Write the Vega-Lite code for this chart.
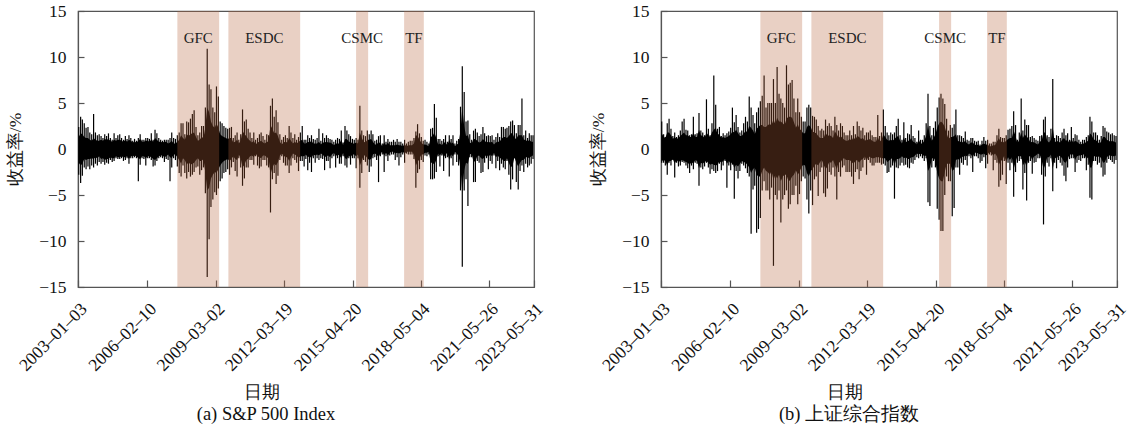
{
"$schema": "https://vega.github.io/schema/vega-lite/v6.json",
"padding": {"left": 6, "top": 1, "right": 10, "bottom": 0},
"datasets": {
"ev": [
{"n":"GFC","s":"2007-06-15","e":"2009-04-28","c":"2008-05-21"},
{"n":"ESDC","s":"2009-09-26","e":"2012-12-12","c":"2011-05-06"},
{"n":"CSMC","s":"2015-06-14","e":"2015-12-28","c":"2015-09-21"},
{"n":"TF","s":"2017-08-07","e":"2018-06-25","c":"2018-01-15"}
],
"m": [
{"d":"2003-01-15","a1":-2.8,"a2":2.4,"p1":-1.5,"p2":1.3,"b1":-1.5,"b2":3.0,"q1":-1.3,"q2":1.7},
{"d":"2003-02-15","a1":-3.7,"a2":3.5,"p1":-1.8,"p2":1.7,"b1":-1.5,"b2":1.6,"q1":-1.2,"q2":1.3},
{"d":"2003-03-15","a1":-2.9,"a2":3.2,"p1":-1.6,"p2":1.6,"b1":-1.8,"b2":1.3,"q1":-1.3,"q2":1.2},
{"d":"2003-04-15","a1":-2.0,"a2":2.8,"p1":-1.1,"p2":1.3,"b1":-2.8,"b2":2.8,"q1":-1.8,"q2":1.8},
{"d":"2003-05-15","a1":-2.2,"a2":2.3,"p1":-1.2,"p2":1.2,"b1":-1.5,"b2":3.3,"q1":-1.3,"q2":1.8},
{"d":"2003-06-15","a1":-1.9,"a2":2.4,"p1":-1.1,"p2":1.2,"b1":-1.8,"b2":2.2,"q1":-1.3,"q2":1.5},
{"d":"2003-07-15","a1":-2.2,"a2":1.8,"p1":-1.1,"p2":1.0,"b1":-1.2,"b2":1.4,"q1":-1.1,"q2":1.1},
{"d":"2003-08-15","a1":-1.8,"a2":1.6,"p1":-1.0,"p2":0.9,"b1":-3.1,"b2":1.8,"q1":-1.6,"q2":1.3},
{"d":"2003-09-15","a1":-2.0,"a2":3.8,"p1":-1.1,"p2":1.2,"b1":-1.5,"b2":1.3,"q1":-1.2,"q2":1.1},
{"d":"2003-10-15","a1":-1.6,"a2":1.8,"p1":-0.9,"p2":1.0,"b1":-1.9,"b2":1.5,"q1":-1.4,"q2":1.2},
{"d":"2003-11-15","a1":-1.8,"a2":1.5,"p1":-1.0,"p2":0.9,"b1":-1.8,"b2":2.0,"q1":-1.3,"q2":1.4},
{"d":"2003-12-15","a1":-1.4,"a2":1.6,"p1":-0.8,"p2":0.9,"b1":-1.4,"b2":3.0,"q1":-1.2,"q2":1.6},
{"d":"2004-01-15","a1":-1.6,"a2":1.4,"p1":-1.1,"p2":1.0,"b1":-1.5,"b2":3.3,"q1":-1.3,"q2":1.8},
{"d":"2004-02-15","a1":-1.4,"a2":1.2,"p1":-1.0,"p2":0.9,"b1":-1.8,"b2":2.1,"q1":-1.4,"q2":1.5},
{"d":"2004-03-15","a1":-1.7,"a2":1.6,"p1":-1.2,"p2":1.1,"b1":-2.1,"b2":2.0,"q1":-1.5,"q2":1.5},
{"d":"2004-04-15","a1":-1.5,"a2":1.4,"p1":-1.1,"p2":1.0,"b1":-2.6,"b2":1.5,"q1":-1.7,"q2":1.3},
{"d":"2004-05-15","a1":-1.6,"a2":1.7,"p1":-1.1,"p2":1.1,"b1":-1.8,"b2":1.6,"q1":-1.4,"q2":1.3},
{"d":"2004-06-15","a1":-1.2,"a2":1.2,"p1":-0.9,"p2":0.9,"b1":-2.2,"b2":3.5,"q1":-1.6,"q2":1.8},
{"d":"2004-07-15","a1":-1.4,"a2":1.0,"p1":-1.0,"p2":0.8,"b1":-1.5,"b2":1.6,"q1":-1.2,"q2":1.3},
{"d":"2004-08-15","a1":-1.3,"a2":1.7,"p1":-1.0,"p2":1.0,"b1":-1.6,"b2":1.7,"q1":-1.3,"q2":1.3},
{"d":"2004-09-15","a1":-1.0,"a2":1.2,"p1":-0.8,"p2":0.9,"b1":-4.0,"b2":3.9,"q1":-2.1,"q2":2.1},
{"d":"2004-10-15","a1":-1.1,"a2":1.5,"p1":-0.9,"p2":1.0,"b1":-2.0,"b2":2.0,"q1":-1.5,"q2":1.5},
{"d":"2004-11-15","a1":-1.1,"a2":1.6,"p1":-0.9,"p2":1.0,"b1":-2.2,"b2":1.8,"q1":-1.6,"q2":1.4},
{"d":"2004-12-15","a1":-1.0,"a2":1.2,"p1":-0.8,"p2":0.9,"b1":-1.9,"b2":1.5,"q1":-1.4,"q2":1.2},
{"d":"2005-01-15","a1":-1.3,"a2":1.0,"p1":-0.9,"p2":0.8,"b1":-1.5,"b2":5.4,"q1":-1.3,"q2":1.8},
{"d":"2005-02-15","a1":-1.2,"a2":1.4,"p1":-0.9,"p2":1.0,"b1":-2.0,"b2":2.2,"q1":-1.5,"q2":1.5},
{"d":"2005-03-15","a1":-1.0,"a2":1.1,"p1":-0.8,"p2":0.8,"b1":-2.7,"b2":1.5,"q1":-1.7,"q2":1.3},
{"d":"2005-04-15","a1":-1.6,"a2":1.5,"p1":-1.1,"p2":1.0,"b1":-2.2,"b2":2.8,"q1":-1.6,"q2":1.8},
{"d":"2005-05-15","a1":-1.0,"a2":1.2,"p1":-0.8,"p2":0.9,"b1":-2.4,"b2":8.0,"q1":-1.7,"q2":2.1},
{"d":"2005-06-15","a1":-1.0,"a2":0.9,"p1":-0.8,"p2":0.7,"b1":-2.6,"b2":4.8,"q1":-1.8,"q2":2.3},
{"d":"2005-07-15","a1":-0.9,"a2":1.1,"p1":-0.7,"p2":0.8,"b1":-2.4,"b2":2.2,"q1":-1.7,"q2":1.6},
{"d":"2005-08-15","a1":-1.0,"a2":0.9,"p1":-0.8,"p2":0.7,"b1":-1.6,"b2":2.4,"q1":-1.3,"q2":1.6},
{"d":"2005-09-15","a1":-3.5,"a2":1.2,"p1":-1.0,"p2":0.9,"b1":-2.3,"b2":1.4,"q1":-1.5,"q2":1.2},
{"d":"2005-10-15","a1":-1.7,"a2":1.6,"p1":-1.1,"p2":1.1,"b1":-1.8,"b2":1.7,"q1":-1.3,"q2":1.3},
{"d":"2005-11-15","a1":-1.0,"a2":1.0,"p1":-0.8,"p2":0.8,"b1":-1.3,"b2":1.5,"q1":-1.1,"q2":1.2},
{"d":"2005-12-15","a1":-1.1,"a2":1.0,"p1":-0.8,"p2":0.8,"b1":-4.2,"b2":1.7,"q1":-1.6,"q2":1.3},
{"d":"2006-01-15","a1":-1.8,"a2":1.2,"p1":-1.0,"p2":0.9,"b1":-1.8,"b2":1.9,"q1":-1.3,"q2":1.4},
{"d":"2006-02-15","a1":-1.0,"a2":1.2,"p1":-0.8,"p2":0.9,"b1":-2.3,"b2":2.3,"q1":-1.6,"q2":1.6},
{"d":"2006-03-15","a1":-1.0,"a2":1.1,"p1":-0.8,"p2":0.8,"b1":-1.7,"b2":4.5,"q1":-1.4,"q2":1.9},
{"d":"2006-04-15","a1":-1.2,"a2":1.7,"p1":-0.9,"p2":1.0,"b1":-5.4,"b2":2.9,"q1":-2.1,"q2":1.8},
{"d":"2006-05-15","a1":-1.9,"a2":1.0,"p1":-1.1,"p2":0.8,"b1":-2.4,"b2":3.7,"q1":-1.7,"q2":2.1},
{"d":"2006-06-15","a1":-1.8,"a2":2.1,"p1":-1.2,"p2":1.2,"b1":-3.2,"b2":2.4,"q1":-1.9,"q2":1.7},
{"d":"2006-07-15","a1":-1.3,"a2":1.7,"p1":-1.0,"p2":1.0,"b1":-2.4,"b2":1.8,"q1":-1.6,"q2":1.4},
{"d":"2006-08-15","a1":-1.0,"a2":1.2,"p1":-0.8,"p2":0.8,"b1":-1.6,"b2":2.0,"q1":-1.3,"q2":1.4},
{"d":"2006-09-15","a1":-0.9,"a2":1.0,"p1":-0.7,"p2":0.8,"b1":-1.8,"b2":2.8,"q1":-1.4,"q2":1.7},
{"d":"2006-10-15","a1":-1.0,"a2":0.9,"p1":-0.7,"p2":0.7,"b1":-2.1,"b2":3.5,"q1":-1.5,"q2":1.9},
{"d":"2006-11-15","a1":-1.4,"a2":1.0,"p1":-0.9,"p2":0.8,"b1":-2.6,"b2":3.0,"q1":-1.7,"q2":1.9},
{"d":"2006-12-15","a1":-1.1,"a2":1.0,"p1":-0.8,"p2":0.8,"b1":-3.0,"b2":5.7,"q1":-2.0,"q2":2.5},
{"d":"2007-01-15","a1":-1.2,"a2":1.0,"p1":-0.6,"p2":0.6,"b1":-9.2,"b2":4.5,"q1":-2.6,"q2":2.3},
{"d":"2007-02-15","a1":-3.5,"a2":1.2,"p1":-0.9,"p2":0.7,"b1":-4.4,"b2":3.7,"q1":-2.2,"q2":2.0},
{"d":"2007-03-15","a1":-2.0,"a2":1.8,"p1":-1.0,"p2":0.9,"b1":-4.0,"b2":2.8,"q1":-2.0,"q2":1.6},
{"d":"2007-04-15","a1":-1.0,"a2":1.2,"p1":-0.6,"p2":0.6,"b1":-9.1,"b2":4.0,"q1":-2.8,"q2":2.2},
{"d":"2007-05-15","a1":-1.2,"a2":1.1,"p1":-0.6,"p2":0.6,"b1":-8.7,"b2":4.5,"q1":-3.0,"q2":2.4},
{"d":"2007-06-15","a1":-1.9,"a2":1.5,"p1":-0.9,"p2":0.8,"b1":-7.5,"b2":5.2,"q1":-3.0,"q2":2.6},
{"d":"2007-07-15","a1":-2.6,"a2":1.8,"p1":-1.2,"p2":1.0,"b1":-4.5,"b2":5.8,"q1":-2.4,"q2":2.6},
{"d":"2007-08-15","a1":-3.0,"a2":2.8,"p1":-1.6,"p2":1.5,"b1":-3.5,"b2":8.0,"q1":-2.0,"q2":2.4},
{"d":"2007-09-15","a1":-1.8,"a2":2.8,"p1":-1.0,"p2":1.2,"b1":-4.5,"b2":4.5,"q1":-2.4,"q2":2.4},
{"d":"2007-10-15","a1":-2.6,"a2":1.6,"p1":-1.2,"p2":1.0,"b1":-4.5,"b2":5.0,"q1":-2.5,"q2":2.6},
{"d":"2007-11-15","a1":-3.2,"a2":3.0,"p1":-1.7,"p2":1.6,"b1":-5.5,"b2":5.0,"q1":-2.8,"q2":2.7},
{"d":"2007-12-15","a1":-2.5,"a2":2.9,"p1":-1.4,"p2":1.4,"b1":-4.2,"b2":5.0,"q1":-2.4,"q2":2.6},
{"d":"2008-01-15","a1":-3.0,"a2":3.3,"p1":-1.7,"p2":1.6,"b1":-12.7,"b2":7.6,"q1":-3.4,"q2":3.2},
{"d":"2008-02-15","a1":-2.8,"a2":3.8,"p1":-1.6,"p2":1.7,"b1":-5.0,"b2":5.0,"q1":-2.8,"q2":2.7},
{"d":"2008-03-15","a1":-2.5,"a2":4.2,"p1":-1.5,"p2":1.8,"b1":-5.5,"b2":8.9,"q1":-3.2,"q2":3.4},
{"d":"2008-04-15","a1":-2.0,"a2":2.4,"p1":-1.2,"p2":1.3,"b1":-4.5,"b2":6.0,"q1":-2.8,"q2":3.0},
{"d":"2008-05-15","a1":-1.9,"a2":1.5,"p1":-1.0,"p2":0.9,"b1":-8.0,"b2":5.5,"q1":-3.5,"q2":3.0},
{"d":"2008-06-15","a1":-2.8,"a2":1.8,"p1":-1.3,"p2":1.0,"b1":-5.5,"b2":5.0,"q1":-3.0,"q2":2.8},
{"d":"2008-07-15","a1":-2.3,"a2":2.5,"p1":-1.3,"p2":1.3,"b1":-5.0,"b2":4.5,"q1":-2.8,"q2":2.6},
{"d":"2008-08-15","a1":-2.0,"a2":2.5,"p1":-1.1,"p2":1.2,"b1":-4.5,"b2":9.1,"q1":-2.8,"q2":3.3},
{"d":"2008-09-15","a1":-4.8,"a2":4.5,"p1":-2.6,"p2":2.4,"b1":-6.5,"b2":7.0,"q1":-3.5,"q2":3.5},
{"d":"2008-10-15","a1":-13.9,"a2":10.9,"p1":-4.5,"p2":4.5,"b1":-6.0,"b2":7.2,"q1":-3.4,"q2":3.5},
{"d":"2008-11-15","a1":-9.8,"a2":7.0,"p1":-4.2,"p2":4.0,"b1":-5.0,"b2":7.5,"q1":-3.0,"q2":3.4},
{"d":"2008-12-15","a1":-6.3,"a2":6.5,"p1":-3.2,"p2":3.0,"b1":-5.0,"b2":5.5,"q1":-2.8,"q2":2.9},
{"d":"2009-01-15","a1":-5.5,"a2":4.5,"p1":-2.8,"p2":2.5,"b1":-4.0,"b2":4.0,"q1":-2.3,"q2":2.3},
{"d":"2009-02-15","a1":-4.7,"a2":4.0,"p1":-2.5,"p2":2.3,"b1":-6.0,"b2":5.5,"q1":-2.8,"q2":2.7},
{"d":"2009-03-15","a1":-5.0,"a2":6.8,"p1":-2.6,"p2":2.8,"b1":-4.9,"b2":4.0,"q1":-2.5,"q2":2.2},
{"d":"2009-04-15","a1":-4.3,"a2":5.7,"p1":-2.2,"p2":2.3,"b1":-3.5,"b2":3.5,"q1":-2.0,"q2":2.0},
{"d":"2009-05-15","a1":-3.5,"a2":3.0,"p1":-1.8,"p2":1.6,"b1":-3.0,"b2":3.0,"q1":-1.7,"q2":1.7},
{"d":"2009-06-15","a1":-3.2,"a2":2.8,"p1":-1.5,"p2":1.4,"b1":-3.2,"b2":3.0,"q1":-1.8,"q2":1.7},
{"d":"2009-07-15","a1":-2.6,"a2":2.5,"p1":-1.3,"p2":1.3,"b1":-5.5,"b2":4.5,"q1":-2.6,"q2":2.4},
{"d":"2009-08-15","a1":-2.5,"a2":2.3,"p1":-1.2,"p2":1.2,"b1":-7.0,"b2":4.8,"q1":-3.0,"q2":2.6},
{"d":"2009-09-15","a1":-2.2,"a2":2.2,"p1":-1.1,"p2":1.1,"b1":-4.5,"b2":4.5,"q1":-2.4,"q2":2.4},
{"d":"2009-10-15","a1":-2.8,"a2":2.3,"p1":-1.3,"p2":1.2,"b1":-6.1,"b2":3.6,"q1":-2.2,"q2":1.9},
{"d":"2009-11-15","a1":-2.0,"a2":2.4,"p1":-1.1,"p2":1.2,"b1":-3.3,"b2":3.5,"q1":-1.8,"q2":1.8},
{"d":"2009-12-15","a1":-1.4,"a2":1.2,"p1":-0.8,"p2":0.7,"b1":-3.0,"b2":3.2,"q1":-1.6,"q2":1.7},
{"d":"2010-01-15","a1":-2.4,"a2":1.5,"p1":-1.1,"p2":0.8,"b1":-5.1,"b2":2.5,"q1":-1.8,"q2":1.4},
{"d":"2010-02-15","a1":-3.0,"a2":1.8,"p1":-1.2,"p2":1.0,"b1":-2.5,"b2":2.0,"q1":-1.4,"q2":1.2},
{"d":"2010-03-15","a1":-1.0,"a2":1.0,"p1":-0.6,"p2":0.6,"b1":-2.0,"b2":2.2,"q1":-1.2,"q2":1.2},
{"d":"2010-04-15","a1":-2.0,"a2":1.6,"p1":-1.0,"p2":0.9,"b1":-4.8,"b2":2.0,"q1":-1.7,"q2":1.2},
{"d":"2010-05-15","a1":-4.0,"a2":4.3,"p1":-2.0,"p2":2.0,"b1":-5.2,"b2":3.2,"q1":-2.2,"q2":1.8},
{"d":"2010-06-15","a1":-3.2,"a2":3.0,"p1":-1.7,"p2":1.6,"b1":-4.3,"b2":2.5,"q1":-1.9,"q2":1.4},
{"d":"2010-07-15","a1":-2.0,"a2":3.2,"p1":-1.2,"p2":1.4,"b1":-2.5,"b2":2.8,"q1":-1.4,"q2":1.5},
{"d":"2010-08-15","a1":-2.0,"a2":2.2,"p1":-1.1,"p2":1.1,"b1":-2.8,"b2":2.5,"q1":-1.5,"q2":1.4},
{"d":"2010-09-15","a1":-1.2,"a2":1.8,"p1":-0.8,"p2":0.9,"b1":-2.0,"b2":2.0,"q1":-1.2,"q2":1.2},
{"d":"2010-10-15","a1":-1.2,"a2":1.2,"p1":-0.7,"p2":0.7,"b1":-3.0,"b2":3.5,"q1":-1.7,"q2":1.9},
{"d":"2010-11-15","a1":-1.7,"a2":1.8,"p1":-0.9,"p2":0.9,"b1":-5.5,"b2":2.6,"q1":-2.2,"q2":1.6},
{"d":"2010-12-15","a1":-0.8,"a2":1.0,"p1":-0.5,"p2":0.5,"b1":-2.5,"b2":2.0,"q1":-1.4,"q2":1.2},
{"d":"2011-01-15","a1":-1.8,"a2":1.2,"p1":-0.8,"p2":0.7,"b1":-3.0,"b2":2.8,"q1":-1.5,"q2":1.4},
{"d":"2011-02-15","a1":-2.1,"a2":1.6,"p1":-0.9,"p2":0.8,"b1":-2.0,"b2":2.5,"q1":-1.1,"q2":1.2},
{"d":"2011-03-15","a1":-1.9,"a2":1.8,"p1":-1.0,"p2":0.9,"b1":-1.8,"b2":1.8,"q1":-1.0,"q2":1.0},
{"d":"2011-04-15","a1":-1.2,"a2":1.4,"p1":-0.7,"p2":0.7,"b1":-2.5,"b2":1.5,"q1":-1.2,"q2":0.9},
{"d":"2011-05-15","a1":-1.2,"a2":1.0,"p1":-0.7,"p2":0.6,"b1":-2.5,"b2":1.5,"q1":-1.2,"q2":0.9},
{"d":"2011-06-15","a1":-1.8,"a2":1.6,"p1":-0.9,"p2":0.8,"b1":-2.5,"b2":2.0,"q1":-1.2,"q2":1.1},
{"d":"2011-07-15","a1":-2.0,"a2":1.5,"p1":-1.0,"p2":0.8,"b1":-3.0,"b2":1.5,"q1":-1.4,"q2":0.9},
{"d":"2011-08-15","a1":-6.9,"a2":4.7,"p1":-2.8,"p2":2.6,"b1":-3.8,"b2":2.5,"q1":-1.6,"q2":1.3},
{"d":"2011-09-15","a1":-3.3,"a2":5.5,"p1":-2.0,"p2":2.2,"b1":-2.5,"b2":1.6,"q1":-1.3,"q2":1.0},
{"d":"2011-10-15","a1":-2.6,"a2":3.5,"p1":-1.6,"p2":1.7,"b1":-2.2,"b2":3.0,"q1":-1.2,"q2":1.4},
{"d":"2011-11-15","a1":-3.8,"a2":4.2,"p1":-1.8,"p2":1.8,"b1":-3.3,"b2":2.5,"q1":-1.5,"q2":1.3},
{"d":"2011-12-15","a1":-2.9,"a2":2.9,"p1":-1.4,"p2":1.4,"b1":-2.4,"b2":2.0,"q1":-1.2,"q2":1.1},
{"d":"2012-01-15","a1":-1.2,"a2":1.6,"p1":-0.7,"p2":0.8,"b1":-2.0,"b2":2.3,"q1":-1.1,"q2":1.2},
{"d":"2012-02-15","a1":-0.8,"a2":1.0,"p1":-0.5,"p2":0.5,"b1":-1.2,"b2":1.5,"q1":-0.8,"q2":0.9},
{"d":"2012-03-15","a1":-1.5,"a2":1.3,"p1":-0.7,"p2":0.7,"b1":-2.8,"b2":1.8,"q1":-1.3,"q2":1.0},
{"d":"2012-04-15","a1":-1.8,"a2":1.5,"p1":-0.9,"p2":0.8,"b1":-1.2,"b2":1.8,"q1":-0.8,"q2":1.0},
{"d":"2012-05-15","a1":-1.8,"a2":1.2,"p1":-0.9,"p2":0.7,"b1":-1.5,"b2":2.0,"q1":-0.9,"q2":1.1},
{"d":"2012-06-15","a1":-2.6,"a2":2.5,"p1":-1.3,"p2":1.2,"b1":-1.8,"b2":1.5,"q1":-1.0,"q2":0.9},
{"d":"2012-07-15","a1":-1.8,"a2":1.8,"p1":-0.9,"p2":0.9,"b1":-1.8,"b2":1.3,"q1":-1.0,"q2":0.8},
{"d":"2012-08-15","a1":-1.0,"a2":1.2,"p1":-0.5,"p2":0.6,"b1":-1.5,"b2":1.3,"q1":-0.9,"q2":0.8},
{"d":"2012-09-15","a1":-1.2,"a2":1.6,"p1":-0.6,"p2":0.8,"b1":-1.5,"b2":3.7,"q1":-0.9,"q2":1.3},
{"d":"2012-10-15","a1":-1.5,"a2":1.0,"p1":-0.7,"p2":0.6,"b1":-1.5,"b2":1.4,"q1":-0.9,"q2":0.8},
{"d":"2012-11-15","a1":-2.4,"a2":1.3,"p1":-1.0,"p2":0.8,"b1":-1.7,"b2":1.8,"q1":-1.0,"q2":1.0},
{"d":"2012-12-15","a1":-1.3,"a2":1.8,"p1":-0.8,"p2":0.9,"b1":-1.6,"b2":4.3,"q1":-1.0,"q2":1.6},
{"d":"2013-01-15","a1":-1.3,"a2":2.5,"p1":-0.8,"p2":1.0,"b1":-1.8,"b2":2.5,"q1":-1.0,"q2":1.3},
{"d":"2013-02-15","a1":-1.9,"a2":1.0,"p1":-0.8,"p2":0.6,"b1":-2.6,"b2":1.8,"q1":-1.4,"q2":1.0},
{"d":"2013-03-15","a1":-1.1,"a2":1.0,"p1":-0.6,"p2":0.6,"b1":-2.5,"b2":1.5,"q1":-1.3,"q2":0.9},
{"d":"2013-04-15","a1":-2.3,"a2":1.5,"p1":-0.9,"p2":0.8,"b1":-2.0,"b2":1.8,"q1":-1.1,"q2":1.0},
{"d":"2013-05-15","a1":-1.5,"a2":1.2,"p1":-0.8,"p2":0.7,"b1":-1.8,"b2":1.6,"q1":-1.0,"q2":0.9},
{"d":"2013-06-15","a1":-2.5,"a2":1.5,"p1":-1.0,"p2":0.9,"b1":-5.4,"b2":1.8,"q1":-1.8,"q2":1.1},
{"d":"2013-07-15","a1":-1.0,"a2":1.1,"p1":-0.6,"p2":0.6,"b1":-2.0,"b2":2.5,"q1":-1.1,"q2":1.3},
{"d":"2013-08-15","a1":-1.5,"a2":1.0,"p1":-0.7,"p2":0.6,"b1":-2.1,"b2":3.3,"q1":-1.1,"q2":1.4},
{"d":"2013-09-15","a1":-1.0,"a2":1.2,"p1":-0.6,"p2":0.6,"b1":-1.8,"b2":1.5,"q1":-1.0,"q2":0.9},
{"d":"2013-10-15","a1":-1.2,"a2":2.2,"p1":-0.7,"p2":0.8,"b1":-1.5,"b2":1.0,"q1":-0.8,"q2":0.6},
{"d":"2013-11-15","a1":-1.0,"a2":0.9,"p1":-0.5,"p2":0.5,"b1":-1.8,"b2":2.9,"q1":-1.0,"q2":1.3},
{"d":"2013-12-15","a1":-1.1,"a2":1.7,"p1":-0.6,"p2":0.7,"b1":-1.7,"b2":1.2,"q1":-0.9,"q2":0.7},
{"d":"2014-01-15","a1":-2.3,"a2":1.2,"p1":-0.9,"p2":0.7,"b1":-2.0,"b2":1.7,"q1":-1.1,"q2":0.9},
{"d":"2014-02-15","a1":-1.3,"a2":1.5,"p1":-0.8,"p2":0.8,"b1":-2.1,"b2":1.6,"q1":-1.1,"q2":0.9},
{"d":"2014-03-15","a1":-1.3,"a2":1.2,"p1":-0.7,"p2":0.7,"b1":-1.5,"b2":2.6,"q1":-0.9,"q2":1.2},
{"d":"2014-04-15","a1":-2.1,"a2":1.1,"p1":-0.9,"p2":0.7,"b1":-1.6,"b2":1.4,"q1":-0.9,"q2":0.8},
{"d":"2014-05-15","a1":-1.0,"a2":1.0,"p1":-0.6,"p2":0.6,"b1":-1.2,"b2":1.2,"q1":-0.7,"q2":0.7},
{"d":"2014-06-15","a1":-0.8,"a2":0.8,"p1":-0.4,"p2":0.4,"b1":-0.9,"b2":0.8,"q1":-0.5,"q2":0.5},
{"d":"2014-07-15","a1":-2.0,"a2":1.0,"p1":-0.8,"p2":0.6,"b1":-1.0,"b2":2.0,"q1":-0.6,"q2":1.0},
{"d":"2014-08-15","a1":-1.0,"a2":1.2,"p1":-0.6,"p2":0.6,"b1":-0.8,"b2":1.0,"q1":-0.5,"q2":0.6},
{"d":"2014-09-15","a1":-1.6,"a2":1.1,"p1":-0.7,"p2":0.6,"b1":-1.0,"b2":1.0,"q1":-0.6,"q2":0.6},
{"d":"2014-10-15","a1":-1.6,"a2":2.0,"p1":-1.0,"p2":1.0,"b1":-1.3,"b2":1.5,"q1":-0.8,"q2":0.9},
{"d":"2014-11-15","a1":-0.8,"a2":0.7,"p1":-0.4,"p2":0.4,"b1":-1.0,"b2":2.8,"q1":-0.7,"q2":1.4},
{"d":"2014-12-15","a1":-1.8,"a2":2.5,"p1":-1.0,"p2":1.1,"b1":-5.8,"b2":6.0,"q1":-2.4,"q2":2.6},
{"d":"2015-01-15","a1":-2.0,"a2":2.0,"p1":-1.1,"p2":1.1,"b1":-6.2,"b2":2.5,"q1":-2.0,"q2":1.4},
{"d":"2015-02-15","a1":-1.0,"a2":1.6,"p1":-0.7,"p2":0.8,"b1":-2.0,"b2":1.5,"q1":-1.1,"q2":0.9},
{"d":"2015-03-15","a1":-1.7,"a2":1.4,"p1":-0.9,"p2":0.8,"b1":-1.3,"b2":2.3,"q1":-0.9,"q2":1.2},
{"d":"2015-04-15","a1":-1.0,"a2":1.1,"p1":-0.6,"p2":0.6,"b1":-2.0,"b2":3.0,"q1":-1.3,"q2":1.6},
{"d":"2015-05-15","a1":-1.0,"a2":1.0,"p1":-0.6,"p2":0.6,"b1":-6.5,"b2":4.5,"q1":-2.6,"q2":2.3},
{"d":"2015-06-15","a1":-2.1,"a2":1.2,"p1":-0.8,"p2":0.7,"b1":-7.7,"b2":5.6,"q1":-3.2,"q2":2.8},
{"d":"2015-07-15","a1":-1.0,"a2":1.0,"p1":-0.6,"p2":0.6,"b1":-8.9,"b2":6.0,"q1":-3.5,"q2":3.0},
{"d":"2015-08-15","a1":-4.2,"a2":4.7,"p1":-1.8,"p2":1.8,"b1":-8.9,"b2":5.5,"q1":-3.5,"q2":2.8},
{"d":"2015-09-15","a1":-2.6,"a2":2.0,"p1":-1.3,"p2":1.2,"b1":-5.0,"b2":4.9,"q1":-2.5,"q2":2.4},
{"d":"2015-10-15","a1":-1.2,"a2":1.5,"p1":-0.7,"p2":0.8,"b1":-3.0,"b2":3.3,"q1":-1.6,"q2":1.7},
{"d":"2015-11-15","a1":-1.4,"a2":1.4,"p1":-0.7,"p2":0.7,"b1":-3.5,"b2":2.0,"q1":-1.6,"q2":1.1},
{"d":"2015-12-15","a1":-1.8,"a2":2.0,"p1":-1.0,"p2":1.0,"b1":-3.5,"b2":2.6,"q1":-1.6,"q2":1.3},
{"d":"2016-01-15","a1":-2.5,"a2":1.6,"p1":-1.2,"p2":1.0,"b1":-7.3,"b2":2.3,"q1":-2.4,"q2":1.3},
{"d":"2016-02-15","a1":-1.9,"a2":2.0,"p1":-1.1,"p2":1.1,"b1":-6.4,"b2":2.7,"q1":-2.2,"q2":1.4},
{"d":"2016-03-15","a1":-1.0,"a2":1.6,"p1":-0.6,"p2":0.8,"b1":-2.0,"b2":4.3,"q1":-1.2,"q2":1.6},
{"d":"2016-04-15","a1":-0.9,"a2":0.9,"p1":-0.5,"p2":0.5,"b1":-2.0,"b2":1.5,"q1":-1.1,"q2":0.9},
{"d":"2016-05-15","a1":-1.2,"a2":1.0,"p1":-0.6,"p2":0.5,"b1":-2.8,"b2":1.5,"q1":-1.2,"q2":0.8},
{"d":"2016-06-15","a1":-3.6,"a2":1.4,"p1":-0.9,"p2":0.8,"b1":-1.5,"b2":1.4,"q1":-0.8,"q2":0.8},
{"d":"2016-07-15","a1":-0.8,"a2":1.5,"p1":-0.5,"p2":0.6,"b1":-1.7,"b2":1.2,"q1":-0.9,"q2":0.7},
{"d":"2016-08-15","a1":-0.6,"a2":0.6,"p1":-0.3,"p2":0.3,"b1":-1.2,"b2":1.9,"q1":-0.7,"q2":0.9},
{"d":"2016-09-15","a1":-2.5,"a2":1.5,"p1":-0.7,"p2":0.7,"b1":-1.8,"b2":1.0,"q1":-0.8,"q2":0.6},
{"d":"2016-10-15","a1":-0.8,"a2":0.8,"p1":-0.4,"p2":0.4,"b1":-0.8,"b2":0.9,"q1":-0.5,"q2":0.5},
{"d":"2016-11-15","a1":-1.3,"a2":1.1,"p1":-0.7,"p2":0.7,"b1":-1.0,"b2":1.2,"q1":-0.6,"q2":0.7},
{"d":"2016-12-15","a1":-0.7,"a2":0.8,"p1":-0.4,"p2":0.4,"b1":-2.5,"b2":1.2,"q1":-0.9,"q2":0.7},
{"d":"2017-01-15","a1":-0.6,"a2":0.8,"p1":-0.3,"p2":0.4,"b1":-0.8,"b2":0.9,"q1":-0.4,"q2":0.5},
{"d":"2017-02-15","a1":-0.6,"a2":1.0,"p1":-0.3,"p2":0.4,"b1":-0.8,"b2":0.8,"q1":-0.4,"q2":0.4},
{"d":"2017-03-15","a1":-1.2,"a2":0.8,"p1":-0.5,"p2":0.4,"b1":-1.0,"b2":0.9,"q1":-0.5,"q2":0.5},
{"d":"2017-04-15","a1":-0.9,"a2":1.1,"p1":-0.4,"p2":0.5,"b1":-1.5,"b2":0.5,"q1":-0.6,"q2":0.3},
{"d":"2017-05-15","a1":-1.8,"a2":0.8,"p1":-0.5,"p2":0.4,"b1":-1.3,"b2":0.9,"q1":-0.6,"q2":0.5},
{"d":"2017-06-15","a1":-0.9,"a2":0.8,"p1":-0.4,"p2":0.4,"b1":-0.9,"b2":1.3,"q1":-0.5,"q2":0.6},
{"d":"2017-07-15","a1":-0.6,"a2":0.6,"p1":-0.3,"p2":0.3,"b1":-2.1,"b2":0.9,"q1":-0.7,"q2":0.5},
{"d":"2017-08-15","a1":-1.5,"a2":1.0,"p1":-0.5,"p2":0.5,"b1":-1.6,"b2":1.0,"q1":-0.6,"q2":0.5},
{"d":"2017-09-15","a1":-0.5,"a2":0.6,"p1":-0.3,"p2":0.3,"b1":-0.6,"b2":0.6,"q1":-0.3,"q2":0.3},
{"d":"2017-10-15","a1":-0.6,"a2":0.8,"p1":-0.3,"p2":0.4,"b1":-0.7,"b2":0.6,"q1":-0.4,"q2":0.3},
{"d":"2017-11-15","a1":-0.6,"a2":0.9,"p1":-0.3,"p2":0.4,"b1":-2.3,"b2":0.8,"q1":-0.7,"q2":0.4},
{"d":"2017-12-15","a1":-0.6,"a2":0.9,"p1":-0.3,"p2":0.4,"b1":-1.2,"b2":0.8,"q1":-0.5,"q2":0.4},
{"d":"2018-01-15","a1":-1.1,"a2":1.2,"p1":-0.6,"p2":0.6,"b1":-1.5,"b2":1.5,"q1":-0.8,"q2":0.8},
{"d":"2018-02-15","a1":-4.2,"a2":1.9,"p1":-1.8,"p2":1.5,"b1":-4.1,"b2":2.2,"q1":-1.7,"q2":1.2},
{"d":"2018-03-15","a1":-2.6,"a2":2.7,"p1":-1.4,"p2":1.4,"b1":-3.4,"b2":1.3,"q1":-1.3,"q2":0.8},
{"d":"2018-04-15","a1":-2.2,"a2":1.7,"p1":-1.1,"p2":1.0,"b1":-2.8,"b2":1.2,"q1":-1.2,"q2":0.8},
{"d":"2018-05-15","a1":-1.2,"a2":1.3,"p1":-0.6,"p2":0.7,"b1":-1.3,"b2":1.2,"q1":-0.7,"q2":0.7},
{"d":"2018-06-15","a1":-1.4,"a2":0.9,"p1":-0.6,"p2":0.5,"b1":-3.8,"b2":1.5,"q1":-1.4,"q2":0.9},
{"d":"2018-07-15","a1":-0.7,"a2":1.0,"p1":-0.4,"p2":0.5,"b1":-1.5,"b2":2.1,"q1":-0.9,"q2":1.1},
{"d":"2018-08-15","a1":-0.8,"a2":0.8,"p1":-0.4,"p2":0.4,"b1":-2.3,"b2":2.2,"q1":-1.2,"q2":1.2},
{"d":"2018-09-15","a1":-0.6,"a2":0.6,"p1":-0.3,"p2":0.3,"b1":-1.5,"b2":2.5,"q1":-0.9,"q2":1.2},
{"d":"2018-10-15","a1":-3.3,"a2":2.2,"p1":-1.5,"p2":1.3,"b1":-5.2,"b2":4.1,"q1":-2.2,"q2":2.0},
{"d":"2018-11-15","a1":-3.3,"a2":2.3,"p1":-1.5,"p2":1.4,"b1":-2.5,"b2":2.6,"q1":-1.4,"q2":1.4},
{"d":"2018-12-15","a1":-3.2,"a2":4.9,"p1":-1.7,"p2":1.8,"b1":-1.5,"b2":1.0,"q1":-0.8,"q2":0.6},
{"d":"2019-01-15","a1":-2.5,"a2":3.4,"p1":-1.2,"p2":1.2,"b1":-1.3,"b2":1.8,"q1":-0.8,"q2":1.0},
{"d":"2019-02-15","a1":-0.8,"a2":1.1,"p1":-0.5,"p2":0.5,"b1":-1.1,"b2":5.5,"q1":-0.8,"q2":1.8},
{"d":"2019-03-15","a1":-1.9,"a2":1.1,"p1":-0.7,"p2":0.6,"b1":-4.4,"b2":2.0,"q1":-1.8,"q2":1.2},
{"d":"2019-04-15","a1":-0.7,"a2":0.9,"p1":-0.4,"p2":0.4,"b1":-2.6,"b2":3.2,"q1":-1.4,"q2":1.6},
{"d":"2019-05-15","a1":-2.4,"a2":1.1,"p1":-0.9,"p2":0.7,"b1":-5.6,"b2":2.6,"q1":-1.9,"q2":1.3},
{"d":"2019-06-15","a1":-1.0,"a2":1.5,"p1":-0.6,"p2":0.7,"b1":-1.5,"b2":2.6,"q1":-0.9,"q2":1.2},
{"d":"2019-07-15","a1":-0.9,"a2":0.8,"p1":-0.4,"p2":0.4,"b1":-1.3,"b2":1.3,"q1":-0.7,"q2":0.7},
{"d":"2019-08-15","a1":-3.0,"a2":1.5,"p1":-1.2,"p2":1.0,"b1":-2.7,"b2":1.4,"q1":-1.2,"q2":0.8},
{"d":"2019-09-15","a1":-1.0,"a2":1.1,"p1":-0.6,"p2":0.6,"b1":-1.5,"b2":1.2,"q1":-0.8,"q2":0.7},
{"d":"2019-10-15","a1":-1.8,"a2":1.5,"p1":-0.8,"p2":0.7,"b1":-1.4,"b2":1.0,"q1":-0.7,"q2":0.6},
{"d":"2019-11-15","a1":-0.6,"a2":0.6,"p1":-0.3,"p2":0.3,"b1":-1.0,"b2":0.9,"q1":-0.5,"q2":0.5},
{"d":"2019-12-15","a1":-1.4,"a2":0.9,"p1":-0.5,"p2":0.5,"b1":-1.0,"b2":1.4,"q1":-0.6,"q2":0.8},
{"d":"2020-01-15","a1":-1.8,"a2":1.1,"p1":-0.8,"p2":0.6,"b1":-2.8,"b2":1.5,"q1":-1.2,"q2":0.9},
{"d":"2020-02-15","a1":-4.5,"a2":4.6,"p1":-2.0,"p2":2.0,"b1":-8.2,"b2":3.2,"q1":-2.2,"q2":1.8},
{"d":"2020-03-15","a1":-12.8,"a2":9.0,"p1":-4.8,"p2":4.5,"b1":-3.0,"b2":3.5,"q1":-1.7,"q2":1.8},
{"d":"2020-04-15","a1":-4.5,"a2":6.2,"p1":-2.3,"p2":2.5,"b1":-1.5,"b2":1.5,"q1":-0.9,"q2":0.9},
{"d":"2020-05-15","a1":-3.3,"a2":3.0,"p1":-1.5,"p2":1.4,"b1":-1.9,"b2":1.3,"q1":-0.9,"q2":0.7},
{"d":"2020-06-15","a1":-6.2,"a2":3.1,"p1":-1.6,"p2":1.5,"b1":-1.0,"b2":2.2,"q1":-0.6,"q2":1.0},
{"d":"2020-07-15","a1":-0.9,"a2":1.6,"p1":-0.6,"p2":0.7,"b1":-4.6,"b2":7.6,"q1":-2.2,"q2":2.4},
{"d":"2020-08-15","a1":-0.9,"a2":1.0,"p1":-0.5,"p2":0.6,"b1":-1.5,"b2":1.2,"q1":-0.9,"q2":0.7},
{"d":"2020-09-15","a1":-3.6,"a2":2.0,"p1":-1.4,"p2":1.1,"b1":-2.1,"b2":1.5,"q1":-1.1,"q2":0.9},
{"d":"2020-10-15","a1":-3.6,"a2":2.2,"p1":-1.3,"p2":1.1,"b1":-1.2,"b2":1.4,"q1":-0.7,"q2":0.8},
{"d":"2020-11-15","a1":-1.3,"a2":1.8,"p1":-0.8,"p2":0.9,"b1":-1.5,"b2":1.2,"q1":-0.8,"q2":0.7},
{"d":"2020-12-15","a1":-1.5,"a2":1.4,"p1":-0.7,"p2":0.7,"b1":-1.8,"b2":1.8,"q1":-1.0,"q2":1.0},
{"d":"2021-01-15","a1":-2.6,"a2":1.6,"p1":-1.0,"p2":0.8,"b1":-2.9,"b2":2.2,"q1":-1.4,"q2":1.2},
{"d":"2021-02-15","a1":-2.5,"a2":2.4,"p1":-1.1,"p2":1.1,"b1":-3.5,"b2":1.5,"q1":-1.5,"q2":0.9},
{"d":"2021-03-15","a1":-1.5,"a2":1.7,"p1":-0.9,"p2":0.9,"b1":-2.0,"b2":1.7,"q1":-1.1,"q2":1.0},
{"d":"2021-04-15","a1":-1.0,"a2":1.4,"p1":-0.6,"p2":0.7,"b1":-1.1,"b2":1.0,"q1":-0.6,"q2":0.6},
{"d":"2021-05-15","a1":-2.2,"a2":1.5,"p1":-0.9,"p2":0.8,"b1":-1.0,"b2":2.4,"q1":-0.6,"q2":1.1},
{"d":"2021-06-15","a1":-1.3,"a2":1.4,"p1":-0.6,"p2":0.7,"b1":-1.0,"b2":1.2,"q1":-0.6,"q2":0.7},
{"d":"2021-07-15","a1":-1.6,"a2":1.5,"p1":-0.8,"p2":0.8,"b1":-2.5,"b2":1.6,"q1":-1.2,"q2":0.9},
{"d":"2021-08-15","a1":-0.7,"a2":1.0,"p1":-0.4,"p2":0.5,"b1":-1.5,"b2":1.5,"q1":-0.8,"q2":0.8},
{"d":"2021-09-15","a1":-2.1,"a2":1.3,"p1":-0.9,"p2":0.7,"b1":-1.2,"b2":1.0,"q1":-0.7,"q2":0.6},
{"d":"2021-10-15","a1":-1.3,"a2":1.7,"p1":-0.7,"p2":0.8,"b1":-1.3,"b2":0.8,"q1":-0.7,"q2":0.5},
{"d":"2021-11-15","a1":-2.3,"a2":1.3,"p1":-1.0,"p2":0.8,"b1":-1.0,"b2":1.0,"q1":-0.6,"q2":0.6},
{"d":"2021-12-15","a1":-1.6,"a2":2.4,"p1":-1.0,"p2":1.1,"b1":-1.0,"b2":1.0,"q1":-0.6,"q2":0.6},
{"d":"2022-01-15","a1":-2.0,"a2":2.4,"p1":-1.3,"p2":1.3,"b1":-2.3,"b2":1.3,"q1":-1.1,"q2":0.8},
{"d":"2022-02-15","a1":-2.2,"a2":2.2,"p1":-1.3,"p2":1.3,"b1":-1.7,"b2":1.5,"q1":-0.9,"q2":0.9},
{"d":"2022-03-15","a1":-1.3,"a2":2.3,"p1":-1.0,"p2":1.2,"b1":-5.3,"b2":3.5,"q1":-2.0,"q2":1.7},
{"d":"2022-04-15","a1":-2.8,"a2":2.5,"p1":-1.5,"p2":1.4,"b1":-5.5,"b2":3.0,"q1":-2.0,"q2":1.5},
{"d":"2022-05-15","a1":-4.4,"a2":3.0,"p1":-2.0,"p2":1.7,"b1":-1.3,"b2":1.8,"q1":-0.8,"q2":1.0},
{"d":"2022-06-15","a1":-3.3,"a2":3.1,"p1":-1.8,"p2":1.7,"b1":-1.3,"b2":1.8,"q1":-0.8,"q2":1.0},
{"d":"2022-07-15","a1":-1.0,"a2":2.6,"p1":-0.9,"p2":1.2,"b1":-1.7,"b2":1.5,"q1":-0.9,"q2":0.8},
{"d":"2022-08-15","a1":-3.6,"a2":1.7,"p1":-1.5,"p2":1.1,"b1":-1.5,"b2":1.0,"q1":-0.8,"q2":0.6},
{"d":"2022-09-15","a1":-4.4,"a2":2.6,"p1":-1.9,"p2":1.5,"b1":-2.0,"b2":1.4,"q1":-1.0,"q2":0.8},
{"d":"2022-10-15","a1":-2.4,"a2":2.6,"p1":-1.5,"p2":1.5,"b1":-3.0,"b2":2.5,"q1":-1.5,"q2":1.3},
{"d":"2022-11-15","a1":-1.8,"a2":5.5,"p1":-1.2,"p2":1.5,"b1":-2.8,"b2":2.3,"q1":-1.4,"q2":1.3},
{"d":"2022-12-15","a1":-2.5,"a2":1.5,"p1":-1.2,"p2":1.0,"b1":-1.5,"b2":1.9,"q1":-0.9,"q2":1.0},
{"d":"2023-01-15","a1":-1.6,"a2":2.0,"p1":-0.9,"p2":1.0,"b1":-1.1,"b2":1.8,"q1":-0.7,"q2":0.9},
{"d":"2023-02-15","a1":-2.0,"a2":1.2,"p1":-0.9,"p2":0.8,"b1":-1.2,"b2":1.6,"q1":-0.7,"q2":0.8},
{"d":"2023-03-15","a1":-1.8,"a2":1.7,"p1":-1.0,"p2":1.0,"b1":-1.4,"b2":1.7,"q1":-0.8,"q2":0.9},
{"d":"2023-04-15","a1":-1.6,"a2":1.5,"p1":-0.8,"p2":0.8,"b1":-1.6,"b2":1.5,"q1":-0.8,"q2":0.8},
{"d":"2023-05-15","a1":-1.1,"a2":1.5,"p1":-0.7,"p2":0.8,"b1":-1.2,"b2":1.4,"q1":-0.7,"q2":0.7}
]
},
"spacing": 42,
"hconcat": [
{
"width": 456, "height": 276,
"title": {"text": "(a) S&P 500 Index", "orient": "bottom", "anchor": "middle", "dx": -40, "offset": 4},
"layer": [
{"data": {"name": "m"}, "mark": {"type": "area", "color": "#000000"},
 "encoding": {
  "x": {"field": "d", "type": "temporal", "scale": {"type": "utc", "domain": [{"year":2003,"month":1,"date":3,"utc":true},{"year":2023,"month":5,"date":31,"utc":true}]},
   "axis": {"values": [{"year":2003,"month":1,"date":3,"utc":true},{"year":2006,"month":2,"date":10,"utc":true},{"year":2009,"month":3,"date":2,"utc":true},{"year":2012,"month":3,"date":19,"utc":true},{"year":2015,"month":4,"date":20,"utc":true},{"year":2018,"month":5,"date":4,"utc":true},{"year":2021,"month":5,"date":26,"utc":true},{"year":2023,"month":5,"date":31,"utc":true}],
    "labelExpr": "utcFormat(datum.value, '%Y–%m–%d')", "labelAngle": -45, "labelAlign": "right", "labelBaseline": "middle", "tickSize": -7, "labelPadding": 26, "labelOffset": 6,
    "title": "日期", "titleX": 183.5, "titleY": 105, "titleAlign": "center", "titleBaseline": "middle"}},
  "y": {"field": "p2", "type": "quantitative", "scale": {"domain": [-15, 15], "nice": false, "zero": false},
   "axis": {"values": [-15,-10,-5,0,5,10,15], "tickSize": -6, "labelPadding": 18, "title": "收益率/%", "titlePadding": 14}},
  "y2": {"field": "p1"}
 }},
{"data": {"name": "m"}, "mark": {"type": "rule", "color": "#000000", "strokeWidth": 1.2},
 "encoding": {"x": {"field": "d", "type": "temporal"}, "y": {"field": "a1", "type": "quantitative"}, "y2": {"field": "a2"}}},
{"data": {"name": "ev"}, "mark": {"type": "rect", "color": "#b5643c", "opacity": 0.3},
 "encoding": {"x": {"field": "s", "type": "temporal"}, "x2": {"field": "e"}, "y": {"datum": -15}, "y2": {"datum": 15}}},
{"data": {"name": "ev"}, "mark": {"type": "text", "fontSize": 15, "color": "#222222", "baseline": "middle", "font": "Liberation Serif"},
 "encoding": {"x": {"field": "c", "type": "temporal"}, "y": {"datum": 12.1}, "text": {"field": "n"}}}
]
},
{
"width": 456, "height": 276,
"title": {"text": "(b) 上证综合指数", "orient": "bottom", "anchor": "middle", "dx": -40, "offset": 4},
"layer": [
{"data": {"name": "m"}, "mark": {"type": "area", "color": "#000000"},
 "encoding": {
  "x": {"field": "d", "type": "temporal", "scale": {"type": "utc", "domain": [{"year":2003,"month":1,"date":3,"utc":true},{"year":2023,"month":5,"date":31,"utc":true}]},
   "axis": {"values": [{"year":2003,"month":1,"date":3,"utc":true},{"year":2006,"month":2,"date":10,"utc":true},{"year":2009,"month":3,"date":2,"utc":true},{"year":2012,"month":3,"date":19,"utc":true},{"year":2015,"month":4,"date":20,"utc":true},{"year":2018,"month":5,"date":4,"utc":true},{"year":2021,"month":5,"date":26,"utc":true},{"year":2023,"month":5,"date":31,"utc":true}],
    "labelExpr": "utcFormat(datum.value, '%Y–%m–%d')", "labelAngle": -45, "labelAlign": "right", "labelBaseline": "middle", "tickSize": -7, "labelPadding": 26, "labelOffset": 6,
    "title": "日期", "titleX": 183.5, "titleY": 105, "titleAlign": "center", "titleBaseline": "middle"}},
  "y": {"field": "q2", "type": "quantitative", "scale": {"domain": [-15, 15], "nice": false, "zero": false},
   "axis": {"values": [-15,-10,-5,0,5,10,15], "tickSize": -6, "labelPadding": 18, "title": "收益率/%", "titlePadding": 14}},
  "y2": {"field": "q1"}
 }},
{"data": {"name": "m"}, "mark": {"type": "rule", "color": "#000000", "strokeWidth": 1.2},
 "encoding": {"x": {"field": "d", "type": "temporal"}, "y": {"field": "b1", "type": "quantitative"}, "y2": {"field": "b2"}}},
{"data": {"name": "ev"}, "mark": {"type": "rect", "color": "#b5643c", "opacity": 0.3},
 "encoding": {"x": {"field": "s", "type": "temporal"}, "x2": {"field": "e"}, "y": {"datum": -15}, "y2": {"datum": 15}}},
{"data": {"name": "ev"}, "mark": {"type": "text", "fontSize": 15, "color": "#222222", "baseline": "middle", "font": "Liberation Serif"},
 "encoding": {"x": {"field": "c", "type": "temporal"}, "y": {"datum": 12.1}, "text": {"field": "n"}}}
]
}
],
"config": {
 "font": "Liberation Serif",
 "view": {"stroke": "#555555", "strokeWidth": 1.2},
 "axis": {"grid": false, "domainColor": "#555555", "domainWidth": 1.2, "tickColor": "#555555", "tickWidth": 1.2,
  "labelFont": "Liberation Serif", "labelFontSize": 17.5, "labelColor": "#111111", "labelFlush": false, "labelOverlap": false,
  "titleFont": "Liberation Serif", "titleFontSize": 17.5, "titleFontWeight": "normal", "titleColor": "#111111"},
 "title": {"font": "Liberation Serif", "fontSize": 18.5, "fontWeight": "normal", "color": "#111111"}
}
}
